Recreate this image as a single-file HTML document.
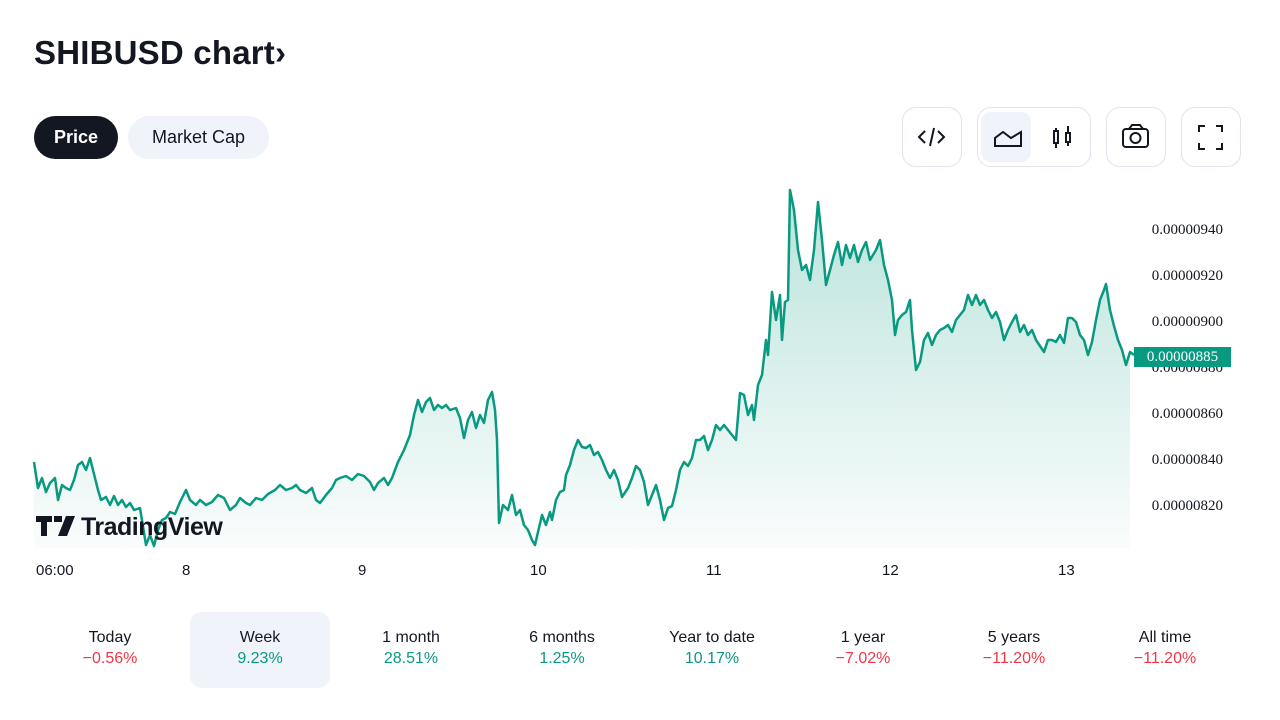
<!DOCTYPE html>
<html><head><meta charset="utf-8"><style>
*{margin:0;padding:0;box-sizing:border-box}
body{width:1280px;height:720px;background:#fff;font-family:"Liberation Sans",sans-serif;color:#131722;position:relative;overflow:hidden}
.abs{position:absolute}
h1{position:absolute;left:34px;top:34px;font-size:33px;font-weight:bold;letter-spacing:0.2px}
.pill{position:absolute;top:116px;height:43px;border-radius:22px;font-size:18px;line-height:43px;text-align:center}
.btn{position:absolute;top:107px;height:60px;border:1px solid #e0e3eb;border-radius:14px}
.yl{position:absolute;right:57px;font-family:"Liberation Serif",serif;font-size:15px;color:#131722}
.xl{position:absolute;top:562px;font-size:15px;color:#131722}
.tab{position:absolute;top:612px;width:140px;height:76px;border-radius:12px;text-align:center;font-size:16px;padding-top:17px}
.tab b{font-weight:normal;display:block;margin-top:3px}
.r{color:#f23645}.g{color:#089981}
</style></head><body>
<h1>SHIBUSD chart›</h1>
<div class="pill" style="left:34px;width:84px;background:#131722;color:#fff;font-weight:bold">Price</div>
<div class="pill" style="left:128px;width:141px;background:#f0f3fa">Market Cap</div>

<div class="btn" style="left:902px;width:60px"></div>
<div class="btn" style="left:977px;width:114px"></div>
<div class="abs" style="left:981px;top:112px;width:50px;height:50px;background:#f0f3fa;border-radius:10px"></div>
<div class="btn" style="left:1106px;width:60px"></div>
<div class="btn" style="left:1181px;width:60px"></div>
<svg class="abs" style="left:0;top:0" width="1280" height="200" fill="none" stroke="#131722" stroke-width="2">
<path d="M925 131l-6 6 6 6M938 131l6 6-6 6M934 128l-4 18"/>
<path d="M995 146v-8l8-6 8 6 10-6v14z"/>
<path d="M1056 128v20M1068 126v20"/><rect x="1054" y="131" width="4" height="12" fill="#fff"/><rect x="1066" y="133" width="4" height="9" fill="#fff"/>
<rect x="1123" y="129" width="25" height="18" rx="3"/><circle cx="1135.5" cy="138" r="5"/><path d="M1129 129l3-4h8l3 4"/>
<path d="M1199 132v-6h6M1216 126h6v6M1222 143v6h-6M1205 149h-6v-6"/>
</svg>

<svg class="abs" style="left:0;top:0" width="1280" height="600">
<defs><linearGradient id="gr" x1="0" y1="0" x2="0" y2="1"><stop offset="0" stop-color="#089981" stop-opacity="0.28"/><stop offset="1" stop-color="#089981" stop-opacity="0.02"/></linearGradient></defs>
<path id="ln" fill="url(#gr)" stroke="none" d="M34 462L38 488 42 478 46 492 50 483 55 478 58 500 62 485 66 488 70 490 74 480 78 465 82 462 86 470 90 458 94 474 98 490 101 500 106 497 110 505 114 496 118 505 122 500 126 507 130 503 134 510 140 508 146 545 150 535 154 546 158 530 162 520 166 518 170 512 175 514 180 502 186 490 190 500 196 505 200 500 206 505 212 502 218 495 224 498 230 510 236 505 240 498 246 503 250 505 256 498 262 500 268 494 275 490 280 485 286 490 292 488 296 485 300 490 306 493 312 488 316 500 320 503 326 495 332 488 336 480 340 478 346 476 352 480 358 474 364 476 370 482 374 490 378 483 384 478 388 485 392 478 398 462 404 450 410 435 414 415 418 400 422 412 426 402 430 398 434 410 438 405 442 408 446 405 450 410 456 408 460 418 464 438 468 420 472 412 476 428 480 415 484 423 488 400 492 392 495 410 497 440 499 523 503 505 508 510 512 495 516 515 520 510 524 525 528 530 532 540 535 545 538 532 542 515 546 525 550 512 552 520 556 500 560 492 564 490 566 475 570 465 574 450 578 440 582 447 586 448 590 445 594 455 598 452 602 460 606 470 610 478 614 470 618 480 622 497 628 488 632 478 636 466 640 470 644 482 648 505 652 495 656 485 660 500 664 520 668 508 672 506 676 490 680 470 684 462 688 466 692 458 696 440 700 440 704 436 708 450 712 440 716 425 720 430 724 425 728 430 732 435 736 440 740 393 744 395 748 415 752 405 754 420 758 385 762 375 766 340 768 355 772 292 776 320 780 295 782 340 785 302 788 300 790 190 794 210 798 250 802 270 806 265 810 280 814 250 818 202 822 240 826 285 830 270 834 255 838 242 842 265 846 245 850 258 854 245 858 262 862 250 866 242 870 260 876 250 880 240 884 265 888 280 892 300 895 335 898 320 902 315 906 312 910 300 912 330 916 370 920 362 924 340 928 333 932 345 936 335 940 330 944 328 948 325 952 332 956 320 960 315 964 310 968 295 972 305 976 295 980 305 984 300 988 310 992 318 996 312 1000 322 1004 340 1008 330 1012 322 1016 315 1020 332 1024 325 1028 335 1032 330 1036 340 1040 346 1044 352 1048 340 1052 340 1056 342 1060 335 1064 343 1068 318 1072 318 1076 322 1080 335 1084 340 1088 355 1092 342 1096 320 1100 300 1104 290 1106 284 1110 310 1114 326 1118 340 1122 350 1126 365 1130 352 1130 548 34 548Z"/>
<polyline fill="none" stroke="#089981" stroke-width="2.5" stroke-linejoin="round" points="34,462 38,488 42,478 46,492 50,483 55,478 58,500 62,485 66,488 70,490 74,480 78,465 82,462 86,470 90,458 94,474 98,490 101,500 106,497 110,505 114,496 118,505 122,500 126,507 130,503 134,510 140,508 146,545 150,535 154,546 158,530 162,520 166,518 170,512 175,514 180,502 186,490 190,500 196,505 200,500 206,505 212,502 218,495 224,498 230,510 236,505 240,498 246,503 250,505 256,498 262,500 268,494 275,490 280,485 286,490 292,488 296,485 300,490 306,493 312,488 316,500 320,503 326,495 332,488 336,480 340,478 346,476 352,480 358,474 364,476 370,482 374,490 378,483 384,478 388,485 392,478 398,462 404,450 410,435 414,415 418,400 422,412 426,402 430,398 434,410 438,405 442,408 446,405 450,410 456,408 460,418 464,438 468,420 472,412 476,428 480,415 484,423 488,400 492,392 495,410 497,440 499,523 503,505 508,510 512,495 516,515 520,510 524,525 528,530 532,540 535,545 538,532 542,515 546,525 550,512 552,520 556,500 560,492 564,490 566,475 570,465 574,450 578,440 582,447 586,448 590,445 594,455 598,452 602,460 606,470 610,478 614,470 618,480 622,497 628,488 632,478 636,466 640,470 644,482 648,505 652,495 656,485 660,500 664,520 668,508 672,506 676,490 680,470 684,462 688,466 692,458 696,440 700,440 704,436 708,450 712,440 716,425 720,430 724,425 728,430 732,435 736,440 740,393 744,395 748,415 752,405 754,420 758,385 762,375 766,340 768,355 772,292 776,320 780,295 782,340 785,302 788,300 790,190 794,210 798,250 802,270 806,265 810,280 814,250 818,202 822,240 826,285 830,270 834,255 838,242 842,265 846,245 850,258 854,245 858,262 862,250 866,242 870,260 876,250 880,240 884,265 888,280 892,300 895,335 898,320 902,315 906,312 910,300 912,330 916,370 920,362 924,340 928,333 932,345 936,335 940,330 944,328 948,325 952,332 956,320 960,315 964,310 968,295 972,305 976,295 980,305 984,300 988,310 992,318 996,312 1000,322 1004,340 1008,330 1012,322 1016,315 1020,332 1024,325 1028,335 1032,330 1036,340 1040,346 1044,352 1048,340 1052,340 1056,342 1060,335 1064,343 1068,318 1072,318 1076,322 1080,335 1084,340 1088,355 1092,342 1096,320 1100,300 1104,290 1106,284 1110,310 1114,326 1118,340 1122,350 1126,365 1130,352 1134,355"/>
<path d="M36 516h16v6h-5v14h-6v-14h-5z M54 516h8v6h-8z M66 516h9l-8 20h-9z" fill="#131722"/>
<text x="81" y="535" font-family="Liberation Sans, sans-serif" font-size="25" font-weight="bold" fill="#131722" letter-spacing="-0.5">TradingView</text>
</svg>

<div class="yl" style="top:222px">0.00000940</div>
<div class="yl" style="top:268px">0.00000920</div>
<div class="yl" style="top:314px">0.00000900</div>
<div class="yl" style="top:360px">0.00000880</div>
<div class="yl" style="top:406px">0.00000860</div>
<div class="yl" style="top:452px">0.00000840</div>
<div class="yl" style="top:498px">0.00000820</div>
<div class="abs" style="left:1134px;top:347px;width:97px;height:20px;background:#089981;color:#fff;font-family:'Liberation Serif',serif;font-size:15px;line-height:20px;text-align:center">0.00000885</div>

<div class="xl" style="left:36px">06:00</div>
<div class="xl" style="left:182px">8</div>
<div class="xl" style="left:358px">9</div>
<div class="xl" style="left:530px">10</div>
<div class="xl" style="left:706px">11</div>
<div class="xl" style="left:882px">12</div>
<div class="xl" style="left:1058px">13</div>

<div class="tab" style="left:40px">Today<b class="r">−0.56%</b></div>
<div class="tab" style="left:190px;background:#f0f3fa">Week<b class="g">9.23%</b></div>
<div class="tab" style="left:341px">1 month<b class="g">28.51%</b></div>
<div class="tab" style="left:492px">6 months<b class="g">1.25%</b></div>
<div class="tab" style="left:642px">Year to date<b class="g">10.17%</b></div>
<div class="tab" style="left:793px">1 year<b class="r">−7.02%</b></div>
<div class="tab" style="left:944px">5 years<b class="r">−11.20%</b></div>
<div class="tab" style="left:1095px">All time<b class="r">−11.20%</b></div>
</body></html>
